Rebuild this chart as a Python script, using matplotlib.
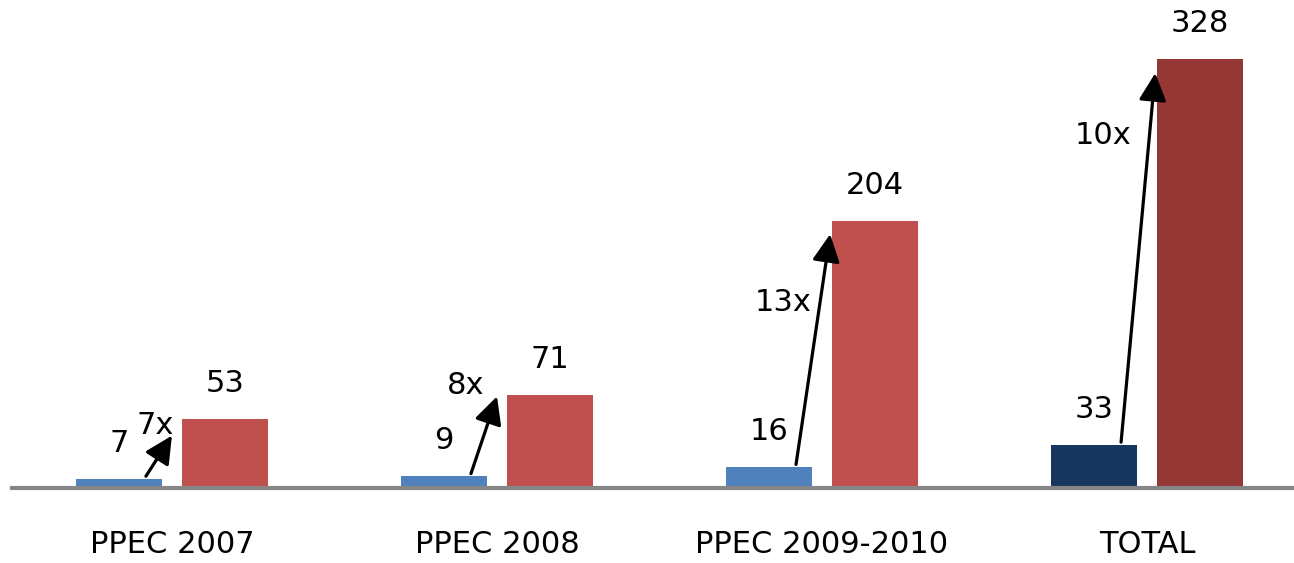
"""
Grouped bars: before / after per PPEC edition, with growth arrows
"""
import numpy as np
import matplotlib.pyplot as plt

categories = ['PPEC 2007', 'PPEC 2008', 'PPEC 2009-2010', 'TOTAL']
before = [7, 9, 16, 33]
after = [53, 71, 204, 328]
growth = ['7x', '8x', '13x', '10x']
# where each arrow ends
arrow_tip = [40, 70, 194, 317]
# growth label heights
growth_y = [48, 78, 142, 269]

blue = ['#4F81BD', '#4F81BD', '#4F81BD', '#17375E']
red = ['#C0504D', '#C0504D', '#C0504D', '#953735']

fig = plt.figure(figsize=(12.94, 5.63), dpi=100)
ax = fig.add_axes([12 / 1294, 75 / 563, 1 - 12 / 1294, (563 - 75 - 30) / 563])

x = np.arange(len(categories))
w = 0.265
off = 0.163

ax.bar(x - off, before, w, color=blue)
ax.bar(x + off, after, w, color=red)

for i in range(len(categories)):
    ax.annotate(str(before[i]), (x[i] - off, before[i]), xytext=(0, 15),
                textcoords='offset points', ha='center', va='bottom', fontsize=22)
    ax.annotate(str(after[i]), (x[i] + off, after[i]), xytext=(0, 15),
                textcoords='offset points', ha='center', va='bottom', fontsize=22)

    # growth arrow from blue bar to red bar
    tip_dx = 0.0 if after[i] < 100 else 0.025
    ax.annotate('', xy=(x[i] + tip_dx, arrow_tip[i]),
                xytext=(x[i] - 0.08, before[i] + 2),
                arrowprops=dict(arrowstyle='-|>,head_length=0.6,head_width=0.3',
                                mutation_scale=28, lw=2.3, color='black',
                                shrinkA=0, shrinkB=0))
    gx = [-0.052, -0.095, -0.12, -0.135][i]
    ax.text(x[i] + gx, growth_y[i], growth[i], ha='center', va='center', fontsize=22)

ax.set_xlim(-0.492, 3.452)
ax.set_ylim(0, 350)
ax.set_xticks(x)
ax.set_xticklabels(categories, fontsize=22)
ax.tick_params(axis='x', length=0, pad=30)
ax.set_yticks([])

for s in ['top', 'right', 'left']:
    ax.spines[s].set_visible(False)
ax.spines['bottom'].set_color('#868686')
ax.spines['bottom'].set_linewidth(3)

plt.savefig('out.png', dpi=100)
